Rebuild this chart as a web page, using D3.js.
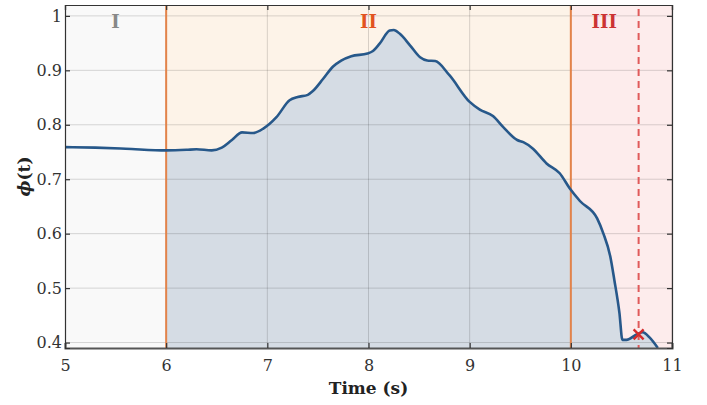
<!DOCTYPE html>
<html><head><meta charset="utf-8">
<script src="https://cdn.jsdelivr.net/npm/d3@7"></script>
<style>body{margin:0;background:#fff}svg{display:block}text{font-family:"DejaVu Serif",serif}</style>
</head><body><svg id="c" width="707" height="405"></svg>
<script>
const times = [5.0,5.3,5.6,6.0,6.2,6.3,6.45,6.55,6.65,6.75,6.86,6.96,7.09,7.22,7.30,7.40,7.45,7.55,7.65,7.73,7.83,7.99,8.04,8.11,8.21,8.25,8.31,8.41,8.51,8.58,8.66,8.80,9.00,9.10,9.23,9.33,9.47,9.53,9.62,9.76,9.89,9.99,10.09,10.26,10.32,10.39,10.43,10.48,10.51,10.55,10.66,10.71,10.78,10.86];
const phi = [0.759,0.758,0.756,0.753,0.754,0.755,0.753,0.758,0.772,0.786,0.785,0.793,0.814,0.845,0.851,0.855,0.862,0.884,0.907,0.918,0.926,0.931,0.935,0.949,0.973,0.974,0.967,0.946,0.924,0.918,0.917,0.891,0.842,0.828,0.816,0.796,0.772,0.768,0.757,0.729,0.711,0.683,0.660,0.628,0.601,0.558,0.515,0.455,0.405,0.405,0.416,0.419,0.409,0.39];
const xTicks = [5,6,7,8,9,10,11];
const yTicks = [0.4,0.5,0.6,0.7,0.8,0.9,1];
const phases = [{label:"I",x0:5,x1:6,bg:"#f9f9f9",color:"#888888"},{label:"II",x0:6,x1:10,bg:"#fdf3e8",color:"#e2531f"},{label:"III",x0:10,x1:11,bg:"#fdecec",color:"#cc3333"}];
const boundaries = [6,10];
const critical = {t:10.67, v:0.415};

const svg = d3.select("#c");
const L=65,R=672,T=5,B=348;
const x = d3.scaleLinear().domain([5,11]).range([L,R]);
const y = d3.scaleLinear().domain([0.39,1.02]).range([B,T]);
svg.append("defs").append("clipPath").attr("id","clip").append("rect").attr("x",L).attr("y",T).attr("width",R-L).attr("height",B-T);
const g = svg.append("g").attr("clip-path","url(#clip)");
g.selectAll(".bg").data(phases).join("rect").attr("x",d=>x(d.x0)).attr("width",d=>x(d.x1)-x(d.x0)).attr("y",T).attr("height",B-T).attr("fill",d=>d.bg);
const data = times.map((t,i)=>({t,v:phi[i]}));
const fillData = data.filter(d=>d.t>=6);
g.append("path").datum(fillData).attr("fill","#d5dce4")
 .attr("d",d3.area().x(d=>x(d.t)).y0(y(0.39)).y1(d=>y(d.v)).curve(d3.curveMonotoneX));
// grid
g.selectAll(".gx").data(xTicks).join("line").attr("x1",d=>x(d)).attr("x2",d=>x(d)).attr("y1",T).attr("y2",B).attr("stroke","#000").attr("stroke-opacity",0.15).attr("stroke-width",1);
g.selectAll(".gy").data(yTicks).join("line").attr("y1",d=>y(d)).attr("y2",d=>y(d)).attr("x1",L).attr("x2",R).attr("stroke","#000").attr("stroke-opacity",0.15).attr("stroke-width",1);
// boundaries
g.selectAll(".bd").data(boundaries).join("line").attr("x1",d=>x(d)).attr("x2",d=>x(d)).attr("y1",T).attr("y2",B).attr("stroke","#e3834a").attr("stroke-width",2);
g.append("line").attr("x1",x(critical.t)).attr("x2",x(critical.t)).attr("y1",T+4).attr("y2",B).attr("stroke","#e05a5a").attr("stroke-width",2).attr("stroke-dasharray","7,5");
g.append("path").datum(data).attr("fill","none").attr("stroke","#27588a").attr("stroke-width",2.6).attr("stroke-linejoin","round")
 .attr("d",d3.line().x(d=>x(d.t)).y(d=>y(d.v)).curve(d3.curveMonotoneX));
// marker
const mx=x(critical.t), my=y(critical.v), s=5;
g.append("path").attr("d",`M${mx-s},${my-s}L${mx+s},${my+s}M${mx-s},${my+s}L${mx+s},${my-s}`).attr("stroke","#d62b2b").attr("stroke-width",2.4);
// phase labels
svg.selectAll(".pl").data(phases).join("text").attr("x",d=>x((d.x0+d.x1)/2 + (d.label==="III"?-0.17:0))).attr("y",28).attr("text-anchor","middle").attr("font-size",18).attr("font-weight","bold").attr("fill",d=>d.color).text(d=>d.label);
// axes
const ax = svg.append("g").attr("transform",`translate(0,${B})`).call(d3.axisBottom(x).tickValues(xTicks).tickSize(-5).tickPadding(12).tickFormat(d3.format("d")));
const axT = svg.append("g").attr("transform",`translate(0,${T})`).call(d3.axisTop(x).tickValues(xTicks).tickSize(-5).tickFormat(""));
const ay = svg.append("g").attr("transform",`translate(${L},0)`).call(d3.axisLeft(y).tickValues(yTicks).tickSize(-5).tickPadding(3).tickFormat(d=>d===1?"1":d3.format(".1f")(d)));
const ayR = svg.append("g").attr("transform",`translate(${R},0)`).call(d3.axisRight(y).tickValues(yTicks).tickSize(-5).tickFormat(""));
[ax,axT,ay,ayR].forEach(a=>{a.select(".domain").attr("stroke","#333").attr("stroke-width",1.2);a.selectAll(".tick line").attr("stroke","#333").attr("stroke-width",1.2);a.selectAll("text").attr("font-size",16).attr("fill","#333").attr("font-family","DejaVu Serif, serif");});
ax.select(".domain").attr("stroke","#555").attr("stroke-width",2);
svg.append("text").attr("x",(L+R)/2).attr("y",394).attr("text-anchor","middle").attr("font-size",17).attr("font-weight","bold").attr("fill","#222").text("Time (s)");
svg.append("text").attr("transform",`translate(30,${(T+B)/2}) rotate(-90)`).attr("text-anchor","middle").attr("font-size",17).attr("font-weight","bold").attr("fill","#222").html('<tspan font-style="italic">ϕ</tspan>(t)');
</script></body></html>
